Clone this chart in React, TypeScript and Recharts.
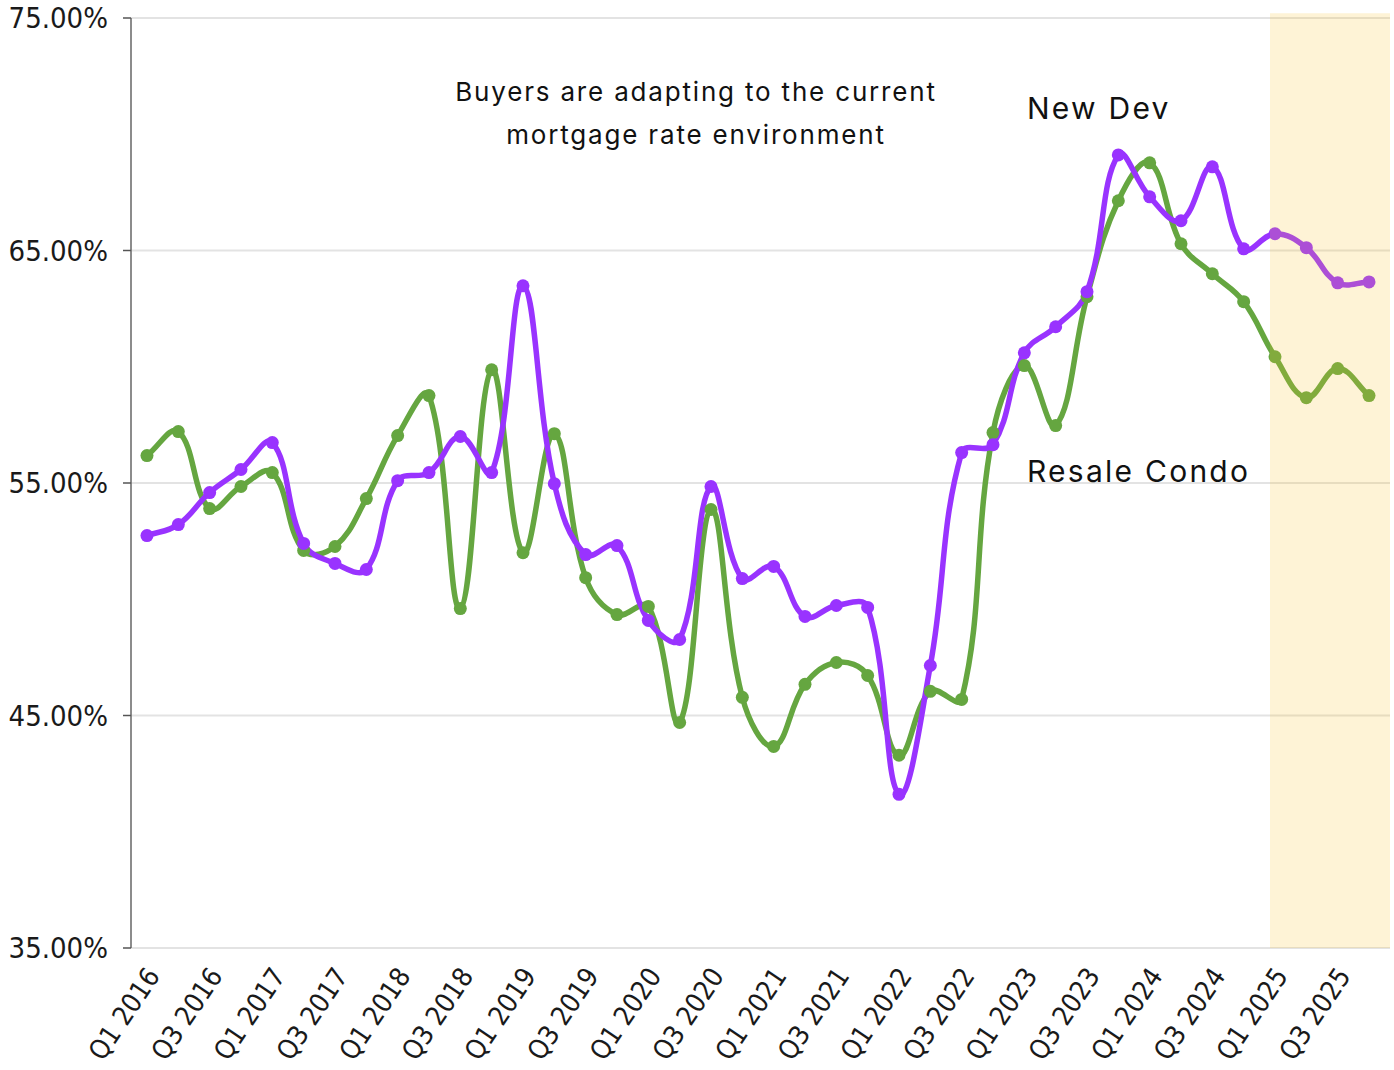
import { LineChart, Line, XAxis, YAxis, CartesianGrid, ReferenceArea } from 'recharts';

const quarters = [
    'Q1 2016', 'Q2 2016', 'Q3 2016', 'Q4 2016',
    'Q1 2017', 'Q2 2017', 'Q3 2017', 'Q4 2017',
    'Q1 2018', 'Q2 2018', 'Q3 2018', 'Q4 2018',
    'Q1 2019', 'Q2 2019', 'Q3 2019', 'Q4 2019',
    'Q1 2020', 'Q2 2020', 'Q3 2020', 'Q4 2020',
    'Q1 2021', 'Q2 2021', 'Q3 2021', 'Q4 2021',
    'Q1 2022', 'Q2 2022', 'Q3 2022', 'Q4 2022',
    'Q1 2023', 'Q2 2023', 'Q3 2023', 'Q4 2023',
    'Q1 2024', 'Q2 2024', 'Q3 2024', 'Q4 2024',
    'Q1 2025', 'Q2 2025', 'Q3 2025', 'Q4 2025'
];

const resaleCondo = [
    56.18, 57.21, 53.9, 54.85, 55.45, 52.1, 52.27, 54.33,
    57.04, 58.76, 49.6, 59.87, 52.0, 57.12, 50.93, 49.34,
    49.69, 44.7, 53.86, 45.78, 43.67, 46.34, 47.28, 46.72,
    43.29, 46.04, 45.69, 57.17, 60.05, 57.47, 63.01, 67.14,
    68.77, 65.29, 64.0, 62.8, 60.43, 58.67, 59.92, 58.76
];

const newDev = [
    52.74, 53.21, 54.59, 55.58, 56.74, 52.4, 51.54, 51.28,
    55.1, 55.45, 57.0, 55.45, 63.48, 54.97, 51.92, 52.31,
    49.09, 48.27, 54.85, 50.89, 51.41, 49.26, 49.73, 49.65,
    41.61, 47.15, 56.31, 56.65, 60.6, 61.72, 63.23, 69.11,
    67.31, 66.28, 68.6, 65.07, 65.72, 65.12, 63.61, 63.65
];

const yTicks = [35, 45, 55, 65, 75];
const xTicks = quarters.map((_, i) => i).filter((i) => i % 2 === 0);

// first forecast quarter
const forecastStart = quarters.indexOf('Q1 2025');

const rows = quarters.map((q, i) => ({
    idx: i,
    quarter: q,
    resale: resaleCondo[i],
    newDev: newDev[i]
}));

const GREEN = '#65A640';
const PURPLE = '#9933FF';
const AXIS_FONT = '"DejaVu Sans Condensed", "DejaVu Sans", sans-serif';
const LABEL_FONT = 'Inter, "Noto Sans", sans-serif';

// spline through every point, tension 0.4 (weighted by segment length)
const TENSION = 0.4;
const splineCurve = (context: any) => {
    let pts: { x: number; y: number }[] = [];
    return {
        areaStart() {},
        areaEnd() {},
        lineStart() {
            pts = [];
        },
        point(x: number, y: number) {
            pts.push({ x: +x, y: +y });
        },
        lineEnd() {
            const n = pts.length;
            if (!n) return;
            const cps = pts.map((cur, i) => {
                const prev = pts[i - 1] || cur;
                const next = pts[i + 1] || cur;
                const d01 = Math.hypot(cur.x - prev.x, cur.y - prev.y);
                const d12 = Math.hypot(next.x - cur.x, next.y - cur.y);
                const sum = d01 + d12;
                const fa = sum ? (TENSION * d01) / sum : 0;
                const fb = sum ? (TENSION * d12) / sum : 0;
                return {
                    inX: cur.x - fa * (next.x - prev.x),
                    inY: cur.y - fa * (next.y - prev.y),
                    outX: cur.x + fb * (next.x - prev.x),
                    outY: cur.y + fb * (next.y - prev.y)
                };
            });
            context.moveTo(pts[0].x, pts[0].y);
            for (let i = 1; i < n; i++) {
                context.bezierCurveTo(
                    cps[i - 1].outX, cps[i - 1].outY,
                    cps[i].inX, cps[i].inY,
                    pts[i].x, pts[i].y
                );
            }
        }
    };
};

const QuarterTick = ({ x, y, payload }: any) => {
    const tx = x + 14;
    const ty = y + 28;
    return (
        <text
            x={tx}
            y={ty}
            transform={`rotate(-56 ${tx} ${ty})`}
            textAnchor="end"
            fontSize={27}
            fontFamily={AXIS_FONT}
            fill="#1a1a1a"
        >
            {quarters[payload.value]}
        </text>
    );
};

const noteStyle: React.CSSProperties = {
    position: 'absolute',
    fontFamily: LABEL_FONT,
    color: '#111',
    whiteSpace: 'nowrap',
    letterSpacing: '0.075em'
};

const App = () => (
    <div style={{ position: 'absolute', left: 0, top: 0, width: 1394, height: 1070, background: '#fff' }}>
        <LineChart width={1394} height={1070} data={rows} margin={{ top: 18, right: 4, bottom: 0, left: 0 }}>
            <CartesianGrid vertical={false} stroke="#e3e3e3" strokeWidth={2} />
            <XAxis
                type="number"
                dataKey="idx"
                domain={[-0.51, 39.67]}
                allowDataOverflow
                ticks={xTicks}
                interval={0}
                height={122}
                tick={<QuarterTick />}
                tickLine={false}
                tickSize={0}
                tickMargin={0}
                axisLine={{ stroke: '#e3e3e3', strokeWidth: 2 }}
            />
            <YAxis
                domain={[35, 75]}
                ticks={yTicks}
                width={131}
                tickFormatter={(v: number) => `${v.toFixed(2)}%`}
                axisLine={{ stroke: '#666', strokeWidth: 1.5 }}
                tickLine={{ stroke: '#555', strokeWidth: 1.5 }}
                tickSize={8}
                tickMargin={15}
                tick={{ fontSize: 29, fill: '#1a1a1a', fontFamily: AXIS_FONT }}
            />
            <Line
                dataKey="resale"
                type={splineCurve as any}
                stroke={GREEN}
                strokeWidth={5.5}
                dot={{ r: 6.5, fill: GREEN, stroke: 'none' }}
                activeDot={false}
                isAnimationActive={false}
            />
            <Line
                dataKey="newDev"
                type={splineCurve as any}
                stroke={PURPLE}
                strokeWidth={5.5}
                dot={{ r: 6.5, fill: PURPLE, stroke: 'none' }}
                activeDot={false}
                isAnimationActive={false}
            />
            {/* forecast band sits over the lines */}
            <ReferenceArea
                x1={forecastStart - 0.16}
                x2={39.67}
                y1={35}
                y2={75.2}
                ifOverflow="visible"
                fill="#FAC332"
                fillOpacity={0.2}
                stroke="none"
                zIndex={1000}
            />
        </LineChart>
        <div style={{ ...noteStyle, left: 396, top: 70, width: 600, textAlign: 'center', fontSize: 26, lineHeight: '43px', letterSpacing: '0.07em' }}>
            Buyers are adapting to the current
            <br />
            mortgage rate environment
        </div>
        <div style={{ ...noteStyle, left: 1027, top: 93, fontSize: 30, lineHeight: '30px' }}>New Dev</div>
        <div style={{ ...noteStyle, left: 1027, top: 456, fontSize: 30, lineHeight: '30px' }}>Resale Condo</div>
    </div>
);

export default App;
